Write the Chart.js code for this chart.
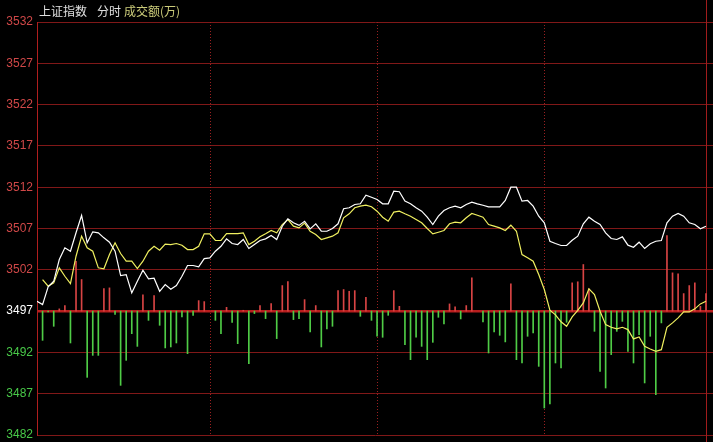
<!DOCTYPE html>
<html>
<head>
<meta charset="utf-8">
<script src="https://cdn.jsdelivr.net/npm/chart.js@4.4.0/dist/chart.umd.min.js"></script>
<style>
    html, body { margin: 0; padding: 0; background: #000; }
    #wrap { width: 713px; height: 442px; }
</style>
</head>
<body>
<div id="wrap"><canvas id="chart" width="713" height="442"></canvas></div>
<script>
// Header texts
const titleIndex = '上证指数';
const titleMode = '分时';
const titleVolume = '成交额(万)';

// Y axis
const prevClose = 3497;
const yTicks = [3482, 3487, 3492, 3497, 3502, 3507, 3512, 3517, 3522, 3527, 3532];

// x positions are 2-minute steps, 0..120
const xMax = 121.26;
const dividers = [31, 61, 91];
const lastIdx = 120;

// Index price (white)
const indexLine = [
    3498.19, 3497.79, 3499.93, 3500.61, 3503.24, 3504.66, 3504.25, 3506.48, 3508.58, 3505.27,
    3506.60, 3506.48, 3505.87, 3505.34, 3504.25, 3501.30, 3501.42, 3499.21, 3500.61, 3501.95,
    3500.90, 3500.98, 3499.40, 3500.21, 3499.65, 3500.09, 3501.22, 3502.52, 3502.52, 3502.36,
    3503.36, 3503.45, 3504.25, 3504.85, 3505.75, 3505.18, 3505.06, 3505.67, 3504.58, 3505.06,
    3505.55, 3505.75, 3506.15, 3505.67, 3507.28, 3508.18, 3507.69, 3507.38, 3507.88, 3506.96,
    3507.57, 3506.67, 3506.67, 3507.00, 3507.57, 3509.39, 3509.51, 3509.91, 3509.99, 3511.04,
    3510.79, 3510.52, 3509.99, 3509.99, 3511.52, 3511.45, 3510.31, 3509.99, 3509.51, 3509.10,
    3508.37, 3507.48, 3508.50, 3509.18, 3509.51, 3509.70, 3509.51, 3509.91, 3510.19, 3509.99,
    3509.82, 3509.63, 3509.63, 3509.63, 3510.39, 3512.00, 3512.00, 3510.31, 3510.39, 3509.70,
    3508.49, 3507.69, 3505.46, 3505.18, 3504.94, 3504.94, 3505.58, 3506.07, 3507.57, 3508.37,
    3507.88, 3507.48, 3506.48, 3505.79, 3505.67, 3505.99, 3504.98, 3504.73, 3505.34, 3504.58,
    3505.15, 3505.46, 3505.55, 3507.69, 3508.49, 3508.82, 3508.49, 3507.69, 3507.48, 3506.96,
    3507.28
];

// Average line (yellow)
const avgLine = [
    null,    3500.82, 3500.01, 3500.42, 3502.24, 3501.22, 3500.33, 3503.64, 3506.07, 3504.66,
    3504.25, 3502.24, 3502.12, 3503.85, 3505.27, 3503.97, 3503.04, 3503.04, 3502.15, 3503.04,
    3504.25, 3504.85, 3504.37, 3505.12, 3505.06, 3505.18, 3504.98, 3504.45, 3504.45, 3504.85,
    3506.36, 3506.36, 3505.55, 3505.55, 3506.39, 3506.39, 3506.39, 3506.48, 3505.06, 3505.46,
    3505.99, 3506.36, 3506.76, 3506.48, 3507.48, 3508.09, 3507.28, 3507.08, 3507.65, 3506.67,
    3506.27, 3505.67, 3505.87, 3506.07, 3506.48, 3508.30, 3508.78, 3509.51, 3509.70, 3509.82,
    3509.63, 3509.10, 3508.37, 3507.88, 3508.98, 3509.10, 3508.78, 3508.49, 3508.09, 3507.69,
    3507.00, 3506.35, 3506.55, 3506.76, 3507.57, 3507.76, 3507.69, 3508.30, 3508.82, 3508.61,
    3508.37, 3507.48, 3507.28, 3507.08, 3506.76, 3507.40, 3506.67, 3503.85, 3503.45, 3503.04,
    3501.42, 3499.61, 3497.10, 3496.55, 3495.70, 3495.16, 3496.30, 3497.10, 3497.99, 3499.69,
    3499.00, 3496.98, 3495.36, 3495.04, 3494.84, 3495.04, 3494.76, 3493.63, 3493.87, 3492.73,
    3492.42, 3492.13, 3492.33, 3495.04, 3495.57, 3496.18, 3496.90, 3496.90, 3497.27, 3497.87,
    3498.19
];

// Turnover bars, signed, drawn from the prevClose line
const turnover = [
    0,     -3.54, -0.10, -1.84,  0.27,  0.67, -3.86,  6.04,  3.82, -8.02,
    -5.36, -5.36,  2.73,  2.81, -0.40, -8.99, -5.96, -2.73, -4.27,  1.96,
    -1.12,  1.88, -1.72, -4.46, -4.34, -3.86, -0.71, -5.15, -0.51,  1.27,
     1.15,  0,    -1.12, -2.73,  0.46, -1.36, -3.94,  0.10, -6.36, -0.30,
     0.67, -0.91,  0.91, -3.33,  3.09,  3.58, -1.03, -0.91,  1.39, -2.52,
     0.67, -4.34, -2.16, -1.84,  2.48,  2.61,  2.40,  2.48, -0.63,  1.67,
    -1.12, -3.05, -3.17, -0.51,  2.48,  0.58, -4.06, -5.88, -3.17, -4.27,
    -5.88, -3.78, -0.75, -1.55,  0.87,  0.51, -0.95,  0.67,  4.02,  0,
    -1.31, -5.07, -2.52, -2.93, -3.73,  3.30, -5.88, -6.28, -3.05, -2.64,
    -6.69,-11.73,-11.25, -6.28, -6.88, -1.36,  3.42,  3.55,  5.64,  2.70,
    -2.45, -7.30, -9.31, -5.27, -2.45, -1.24, -4.88, -6.28, -2.85, -8.70,
    -3.05,-10.12, -1.43,  9.15,  4.63,  4.51,  2.12,  3.09,  3.42,  0.58,
     2.12
];

const RED = '#d84444';
const GREEN = '#4fcc46';
const GRID = '#801818';

const barData = [];
turnover.forEach(function(v, i) {
    if (v !== 0) barData.push({ x: i, y: [prevClose, prevClose + v] });
});

const overlay = {
    id: 'overlay',
    beforeDatasetsDraw: function(chart) {
        const ctx = chart.ctx;
        const area = chart.chartArea;
        const x = chart.scales.x;
        ctx.save();
        ctx.strokeStyle = '#9a2020';
        ctx.lineWidth = 1;
        ctx.setLineDash([1, 2]);
        dividers.forEach(function(i) {
            const px = Math.round(x.getPixelForValue(i)) + 0.5;
            ctx.beginPath();
            ctx.moveTo(px, area.top);
            ctx.lineTo(px, area.bottom);
            ctx.stroke();
        });
        ctx.setLineDash([]);
        ctx.strokeStyle = '#a01c1c';
        const ex = Math.round(x.getPixelForValue(lastIdx)) + 0.5;
        ctx.beginPath();
        ctx.moveTo(ex, 0);
        ctx.lineTo(ex, chart.height);
        ctx.stroke();
        ctx.restore();
    },
    afterDraw: function(chart) {
        const ctx = chart.ctx;
        ctx.save();
        ctx.font = '12px "Noto Sans CJK SC", sans-serif';
        ctx.textBaseline = 'middle';
        ctx.fillStyle = '#e0e0e0';
        ctx.fillText(titleIndex, 39, 11);
        ctx.fillText(titleMode, 97, 11);
        ctx.fillStyle = '#cccc7a';
        ctx.fillText(titleVolume, 124, 11);
        ctx.restore();
    }
};

new Chart(document.getElementById('chart'), {
    data: {
        datasets: [
            {
                type: 'line',
                data: indexLine.map(function(v, i) { return { x: i, y: v }; }),
                borderColor: '#ffffff',
                borderWidth: 1.2,
                pointRadius: 0,
                tension: 0,
                order: 1
            },
            {
                type: 'line',
                data: avgLine.map(function(v, i) { return { x: i, y: v }; }),
                borderColor: '#f0f060',
                borderWidth: 1.2,
                pointRadius: 0,
                tension: 0,
                order: 2
            },
            {
                type: 'bar',
                data: barData,
                backgroundColor: function(c) {
                    const r = c.raw;
                    return r && r.y[1] >= prevClose ? RED : GREEN;
                },
                barThickness: 1,
                grouped: false,
                order: 3
            }
        ]
    },
    options: {
        responsive: false,
        devicePixelRatio: 1,
        animation: false,
        layout: { padding: { top: 22, bottom: 7, left: 0, right: 0 } },
        plugins: { legend: { display: false }, tooltip: { enabled: false } },
        scales: {
            x: { type: 'linear', min: 0, max: xMax, offset: false, display: false },
            y: {
                min: yTicks[0],
                max: yTicks[yTicks.length - 1],
                afterBuildTicks: function(s) {
                    s.ticks = yTicks.map(function(v) { return { value: v }; });
                },
                afterFit: function(s) {
                    s.width = 37;
                    s.paddingTop = 0;
                    s.paddingBottom = 0;
                },
                border: { color: '#b01e1e', width: 1 },
                grid: {
                    drawTicks: false,
                    color: function(c) {
                        return c.tick && c.tick.value === prevClose ? '#b81e1e' : GRID;
                    },
                    lineWidth: function(c) {
                        return c.tick && c.tick.value === prevClose ? 2.5 : 1;
                    }
                },
                ticks: {
                    padding: 4,
                    font: { family: '"Liberation Sans", Arial', size: 12 },
                    callback: function(v) { return String(v); },
                    color: function(c) {
                        const v = c.tick.value;
                        if (v > prevClose) return '#d04848';
                        if (v === prevClose) return '#ffffff';
                        return '#48c848';
                    }
                }
            }
        }
    },
    plugins: [overlay]
});
</script>
</body>
</html>
